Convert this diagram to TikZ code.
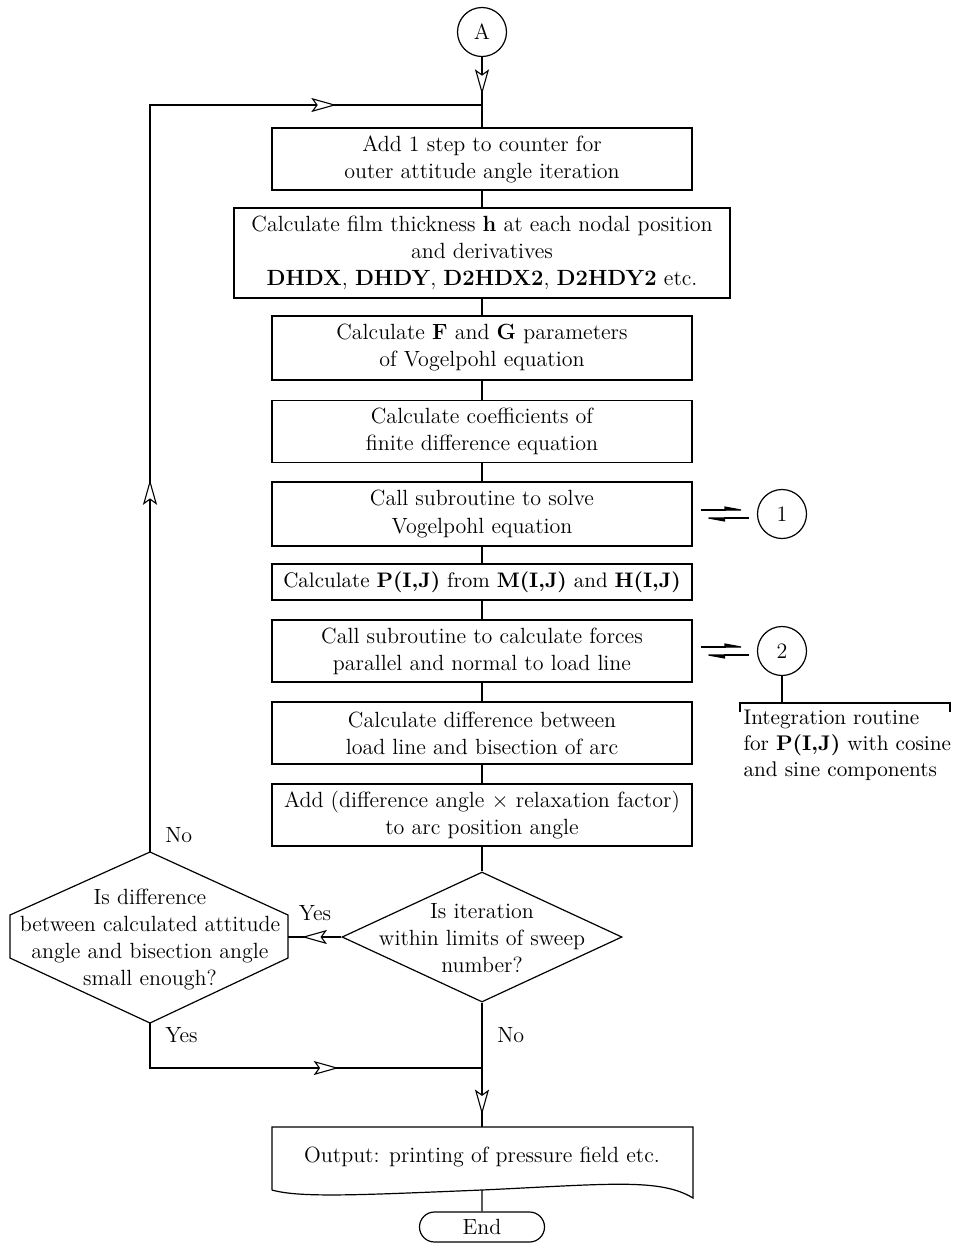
\documentclass[tikz,border=0pt]{standalone}
\usetikzlibrary{shapes.geometric,shapes.misc,arrows.meta,decorations.markings}

\tikzset{flowtip/.tip={Stealth[length=12.5pt,width=7pt,inset=2.5pt,fill=white,line width=0.55pt]}}

\begin{document}
\begin{tikzpicture}[x=0.5pt,y=-0.5pt,line width=0.6pt,
        every node/.style={font=\fontsize{11}{13.5}\selectfont},
        stepbox/.style={draw,align=center,minimum width=210pt,minimum height=31pt,inner sep=2pt},
        conn/.style={draw,circle,minimum size=24.5pt,inner sep=0pt},
        decision/.style={draw,diamond,minimum width=140pt,minimum height=65pt,inner sep=0pt},
        harp/.style={-{Stealth[harpoon,length=10pt,width=3.5pt,inset=0pt]},shorten <=4pt,shorten >=4.5pt},
        tipat/.style={postaction={decorate},decoration={markings,mark=at position #1 with {\arrow{flowtip}}}}]
    \useasboundingbox (0,0) rectangle (956,1244);

    % connector and main chain
    \node[conn] (A) at (482,32) {A};
    \node[stepbox] (box1) at (482,159) {Add 1 step to counter for\\outer attitude angle iteration};
    \node[stepbox,minimum width=248pt,minimum height=45pt] (box2) at (482,253) {Calculate film thickness \textbf{h} at each nodal position\\and derivatives\\\textbf{DHDX}, \textbf{DHDY}, \textbf{D2HDX2}, \textbf{D2HDY2} etc.};
    \node[stepbox,minimum height=32pt] (box3) at (482,348) {Calculate \textbf{F} and \textbf{G} parameters\\of Vogelpohl equation};
    \node[stepbox] (box4) at (482,431.5) {Calculate coefficients of\\finite difference equation};
    \node[stepbox,minimum height=32pt] (box5) at (482,514) {Call subroutine to solve\\Vogelpohl equation};
    \node[stepbox,minimum height=18pt,font=\fontsize{10.5}{13.5}\selectfont] (box6) at (482,582) {Calculate \textbf{P(I,J)} from \textbf{M(I,J)} and \textbf{H(I,J)}};
    \node[stepbox] (box7) at (482,651) {Call subroutine to calculate forces\\parallel and normal to load line};
    \node[stepbox] (box8) at (482,733) {Calculate difference between\\load line and bisection of arc};
    \node[stepbox] (box9) at (482,815) {Add (difference angle $\times$ relaxation factor)\\to arc position angle};

    % subroutines
    \node[conn] (sub1) at (782,514) {1};
    \node[conn] (sub2) at (782,651) {2};
    \draw[harp] ([yshift=2pt]box5.east) -- ([yshift=2pt]sub1.west);
    \draw[harp] ([yshift=-2pt]sub1.west) -- ([yshift=-2pt]box5.east);
    \draw[harp] ([yshift=2pt]box7.east) -- ([yshift=2pt]sub2.west);
    \draw[harp] ([yshift=-2pt]sub2.west) -- ([yshift=-2pt]box7.east);
    \coordinate (brk) at (782,703);
    \draw (sub2) -- (brk);
    \draw (740,712) -- (740,703) -- (950,703) -- (950,712);
    \node[anchor=north west,align=left,inner sep=0pt,font=\fontsize{10.6}{13.2}\selectfont] (note) at (743,709) {Integration routine\\for \textbf{P(I,J)} with cosine\\and sine components};

    % decisions
    \node[decision] (sweep) at (482,937) {};
    \node[align=center,inner sep=0pt] (sweepq) at (482,938) {Is iteration\\within limits of sweep\\number?};
    \coordinate (hxn) at (150,852);
    \coordinate (hxe) at (288,937);
    \coordinate (hxs) at (150,1023);
    \draw (hxn) -- (288,915) -- (288,958) -- (hxs) -- (10,958) -- (10,915) -- cycle;
    \node[align=center,inner sep=0pt] (hexq) at (150,939) {Is difference\\between calculated attitude\\angle and bisection angle\\small enough?};

    % output and end
    \node (out) at (482,1157) {Output: printing of pressure field etc.};
    \draw (272,1190) -- (272,1127) -- (693,1127) -- (693,1198)
        .. controls (660,1178) and (610,1184) .. (482,1190)
        .. controls (360,1195) and (300,1198) .. (272,1190);
    \coordinate (outtop) at (482,1127);
    \coordinate (outbot) at (482,1190);
    \node[draw,rounded rectangle,minimum width=62.5pt,minimum height=15pt,inner sep=0pt] (end) at (482,1227) {End};

    % connections
    \coordinate (join) at (482,105);
    \coordinate (merge) at (482,1068);
    \draw[tipat=0.53] (A) -- (box1);
    \foreach \a/\b in {box1/box2,box2/box3,box3/box4,box4/box5,box5/box6,box6/box7,box7/box8,box8/box9,box9/sweep}
        \draw (\a) -- (\b);
    \draw[postaction={decorate},decoration={markings,
        mark=at position 0.345 with {\arrow{flowtip}},
        mark=at position 0.865 with {\arrow{flowtip}}}] (hxn) |- (join);
    \draw[tipat=0.74] (sweep.west) -- (hxe);
    \draw[tipat=0.62] (hxs) |- (merge);
    \draw[tipat=0.9] (sweep.south) -- (outtop);
    \draw (outbot) -- (end);

    % labels
    \node[anchor=west] (lno1) at (158,835) {No};
    \node (lyes1) at (315,913) {Yes};
    \node[anchor=west] (lyes2) at (158,1035) {Yes};
    \node[anchor=west] (lno2) at (490,1035) {No};
\end{tikzpicture}
\end{document}
